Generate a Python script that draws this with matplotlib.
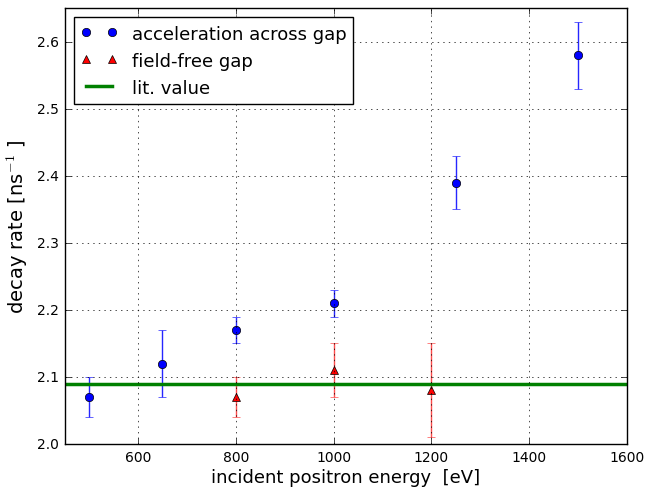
import matplotlib
matplotlib.use("Agg")
import matplotlib.pyplot as plt

# acceleration across gap
acc_energy = [500, 650, 800, 1000, 1250, 1500]
acc_rate = [2.07, 2.12, 2.17, 2.21, 2.39, 2.58]
acc_err = [0.03, 0.05, 0.02, 0.02, 0.04, 0.05]

# field-free gap
ff_energy = [800, 1000, 1200]
ff_rate = [2.07, 2.11, 2.08]
ff_err = [0.03, 0.04, 0.07]

lit_value = 2.089

plt.style.use("classic")
fig, ax = plt.subplots(figsize=(6.47, 4.89), dpi=100)
fig.subplots_adjust(left=0.1, right=0.969, top=0.981, bottom=0.09)


def bars(x, y, err, color, capcolor):
    _, caps, lines = ax.errorbar(x, y, yerr=err, fmt="none", ecolor=color,
                                 capsize=3, elinewidth=1)
    for c in caps:
        c.set_color(capcolor)


bars(acc_energy, acc_rate, acc_err, (0.15, 0.15, 1.0), (0.55, 0.55, 1.0))
bars(ff_energy, ff_rate, ff_err, (1.0, 0.3, 0.3), (1.0, 0.55, 0.55))

ax.plot(acc_energy, acc_rate, "o", color="b", markersize=6,
        label="acceleration across gap")
ax.plot(ff_energy, ff_rate, "^", color="r", markersize=6,
        label="field-free gap")
ax.axhline(lit_value, color="g", linewidth=2.5, label="lit. value")

ax.set_xlim(450, 1600)
ax.set_ylim(2.0, 2.65)
ax.set_xticks([600, 800, 1000, 1200, 1400, 1600])
ax.set_yticks([2.0, 2.1, 2.2, 2.3, 2.4, 2.5, 2.6])
ax.tick_params(labelsize=10)
ax.grid(True, linestyle=":", color="k")

ax.set_xlabel("incident positron energy  [eV]", fontsize=13, labelpad=3)
ax.set_ylabel("decay rate [ns$^{-1}$ ]", fontsize=14)
ax.legend(loc="upper left", numpoints=2, fontsize=13, handlelength=2)

fig.savefig("out.png", dpi=100)
